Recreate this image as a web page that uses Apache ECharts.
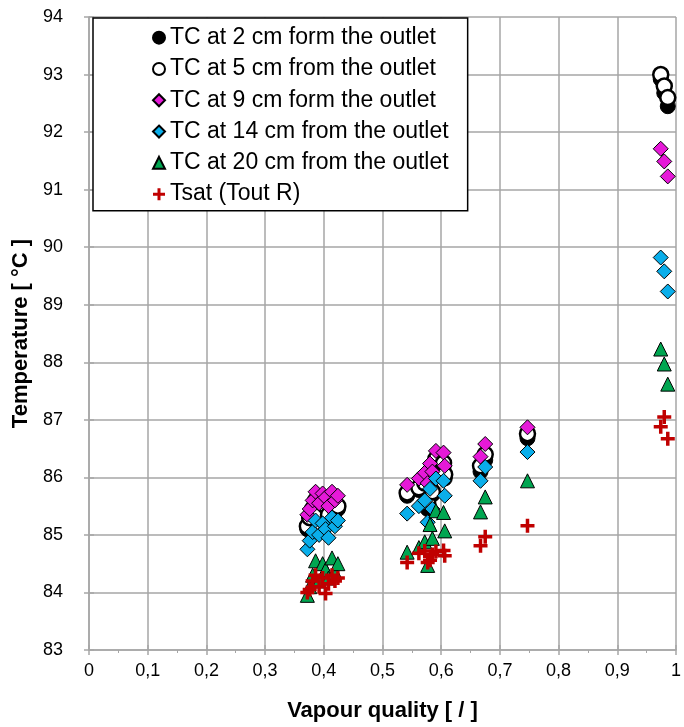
<!DOCTYPE html>
<html><head><meta charset="utf-8">
<script src="https://cdn.jsdelivr.net/npm/echarts@6/dist/echarts.min.js"></script>
<style>html,body{margin:0;padding:0;background:#fff}#c{width:684px;height:727px}</style>
</head><body><div id="c"></div>
<script>
// Vapour quality of each test point (shared by all sensors)
const quality = [
  0.372, 0.376, 0.381, 0.386, 0.392, 0.398, 0.403, 0.408, 0.414, 0.419, 0.424,
  0.542, 0.562, 0.572, 0.577, 0.581, 0.585, 0.591, 0.604, 0.606,
  0.667, 0.675, 0.747,
  0.974, 0.980, 0.986
];
const tc2cm = [
  85.10, 85.25, 85.40, 85.55, 85.35, 85.50, 85.45, 85.30, 85.55, 85.40, 85.45,
  85.68, 85.78, 85.85, 85.45, 86.02, 85.70, 86.25, 86.18, 85.98,
  86.10, 86.30, 86.68,
  92.92, 92.68, 92.45
];
const tc5cm = [
  85.15, 85.30, 85.45, 85.60, 85.40, 85.55, 85.50, 85.35, 85.60, 85.45, 85.50,
  85.73, 85.82, 85.90, 85.55, 86.10, 85.75, 86.32, 86.25, 86.05,
  86.20, 86.40, 86.76,
  93.00, 92.80, 92.60
];
const tc9cm = [
  85.35, 85.45, 85.60, 85.75, 85.55, 85.72, 85.65, 85.50, 85.75, 85.60, 85.68,
  85.87, 85.98, 86.08, 85.90, 86.24, 86.10, 86.46, 86.43, 86.20,
  86.36, 86.58, 86.87,
  91.71, 91.49, 91.23
];
const tc14cm = [
  84.75, 84.90, 85.05, 85.25, 85.00, 85.20, 85.10, 84.95, 85.30, 85.15, 85.25,
  85.37, 85.50, 85.60, 85.22, 85.80, 85.45, 85.98, 85.94, 85.68,
  85.94, 86.18, 86.44,
  89.82, 89.58, 89.23
];
const tc20cm = [
  83.95, 84.10, 84.30, 84.55, 84.20, 84.50, 84.40, 84.25, 84.60, 84.35, 84.50,
  84.70, 84.78, 84.88, 84.47, 85.18, 84.94, 85.42, 85.39, 85.07,
  85.40, 85.66, 85.94,
  88.23, 87.97, 87.62
];
const tsat = [
  84.00, 84.05, 84.20, 84.30, 84.10, 84.25, 83.98, 84.15, 84.30, 84.20, 84.25,
  84.52, 84.68, 84.72, 84.52, 84.56, 84.66, 84.71, 84.73, 84.64,
  84.81, 84.97, 85.16,
  86.88, 87.05, 86.67
];
const seriesNames = [
  'TC at 2 cm form the outlet',
  'TC at 5 cm from the outlet',
  'TC at 9 cm form the outlet',
  'TC at 14 cm from the outlet',
  'TC at 20 cm from the outlet',
  'Tsat (Tout R)'
];
const xTicks = ['0','0,1','0,2','0,3','0,4','0,5','0,6','0,7','0,8','0,9','1'];

const pair = ys => quality.map((q, i) => [q, ys[i]]);
const PLUS = 'path://M3,0H5V3H8V5H5V8H3V5H0V3H3Z';
const gridCol = '#a6a6a6';
const FONT = '"Liberation Sans Narrow","Liberation Sans",Arial,sans-serif';

const styles = [
  {symbol: 'circle', size: 15, color: '#000', border: '#000', bw: 1},
  {symbol: 'circle', size: 15, color: '#fff', border: '#000', bw: 2.5},
  {symbol: 'diamond', size: 15, color: '#E619D8', border: '#000', bw: 1},
  {symbol: 'diamond', size: 15, color: '#0AAEEA', border: '#000', bw: 1},
  {symbol: 'triangle', size: 14, color: '#00A651', border: '#000', bw: 1},
  {symbol: PLUS, size: 14, color: '#C00000', border: '#C00000', bw: 0}
];
const dataSets = [tc2cm, tc5cm, tc9cm, tc14cm, tc20cm, tsat];

const chart = echarts.init(document.getElementById('c'), null, {renderer: 'canvas'});
chart.setOption({
  animation: false,
  backgroundColor: '#fff',
  grid: {left: 89, right: 2, top: 17, bottom: 75, containLabel: false},
  xAxis: [{
    type: 'value', min: 0, max: 1, interval: 0.1,
    name: 'Vapour quality [ / ]', nameLocation: 'middle', nameGap: 50,
    nameTextStyle: {fontFamily: FONT, fontWeight: 'bold', fontSize: 22, color: '#000'},
    axisLine: {show: true, lineStyle: {color: gridCol, width: 1.5}},
    axisTick: {show: true, length: 5, lineStyle: {color: gridCol, width: 1.5}},
    minorTick: {show: true, splitNumber: 2, length: 3, lineStyle: {color: gridCol}},
    axisLabel: {fontFamily: FONT, fontSize: 18, color: '#000', margin: 12,
      formatter: v => xTicks[Math.round(v * 10)]},
    splitLine: {show: true, lineStyle: {color: gridCol, width: 1.5}}
  }, {
    type: 'value', min: 0, max: 1, interval: 0.1, position: 'bottom',
    axisLine: {show: false}, axisLabel: {show: false}, splitLine: {show: false},
    axisTick: {show: true, inside: true, length: 5, lineStyle: {color: gridCol, width: 1.5}}
  }],
  yAxis: [{
    type: 'value', min: 83, max: 94, interval: 1,
    name: 'Temperature [ °C ]', nameLocation: 'middle', nameGap: 56, nameRotate: 90,
    nameTextStyle: {fontFamily: FONT, fontWeight: 'bold', fontSize: 22, color: '#000'},
    axisLine: {show: true, lineStyle: {color: gridCol, width: 1.5}},
    axisTick: {show: true, length: 5, lineStyle: {color: gridCol, width: 1.5}},
    axisLabel: {fontFamily: FONT, fontSize: 18, color: '#000', margin: 26},
    splitLine: {show: true, lineStyle: {color: gridCol, width: 1.5}}
  }, {
    type: 'value', min: 83, max: 94, interval: 1, position: 'left',
    axisLine: {show: false}, axisLabel: {show: false}, splitLine: {show: false},
    axisTick: {show: true, inside: true, length: 5, lineStyle: {color: gridCol, width: 1.5}}
  }],
  legend: {
    orient: 'vertical', left: 93, top: 18,
    padding: [8, 19, 5, 59], itemGap: 8, itemWidth: 12, itemHeight: 12, itemTextGap: 7,
    backgroundColor: '#fff', borderColor: '#000', borderWidth: 1.5, borderRadius: 0,
    textStyle: {fontFamily: '"Liberation Sans",Arial,sans-serif', fontSize: 23, color: '#000', lineHeight: 23.3},
    data: seriesNames
  },
  series: seriesNames.map((n, k) => ({
    name: n, type: 'scatter', xAxisIndex: 0, yAxisIndex: 0,
    symbol: styles[k].symbol, symbolSize: styles[k].size,
    itemStyle: {color: styles[k].color, borderColor: styles[k].border, borderWidth: styles[k].bw, opacity: 1},
    data: pair(dataSets[k]), z: 2 + k
  }))
});
</script></body></html>
